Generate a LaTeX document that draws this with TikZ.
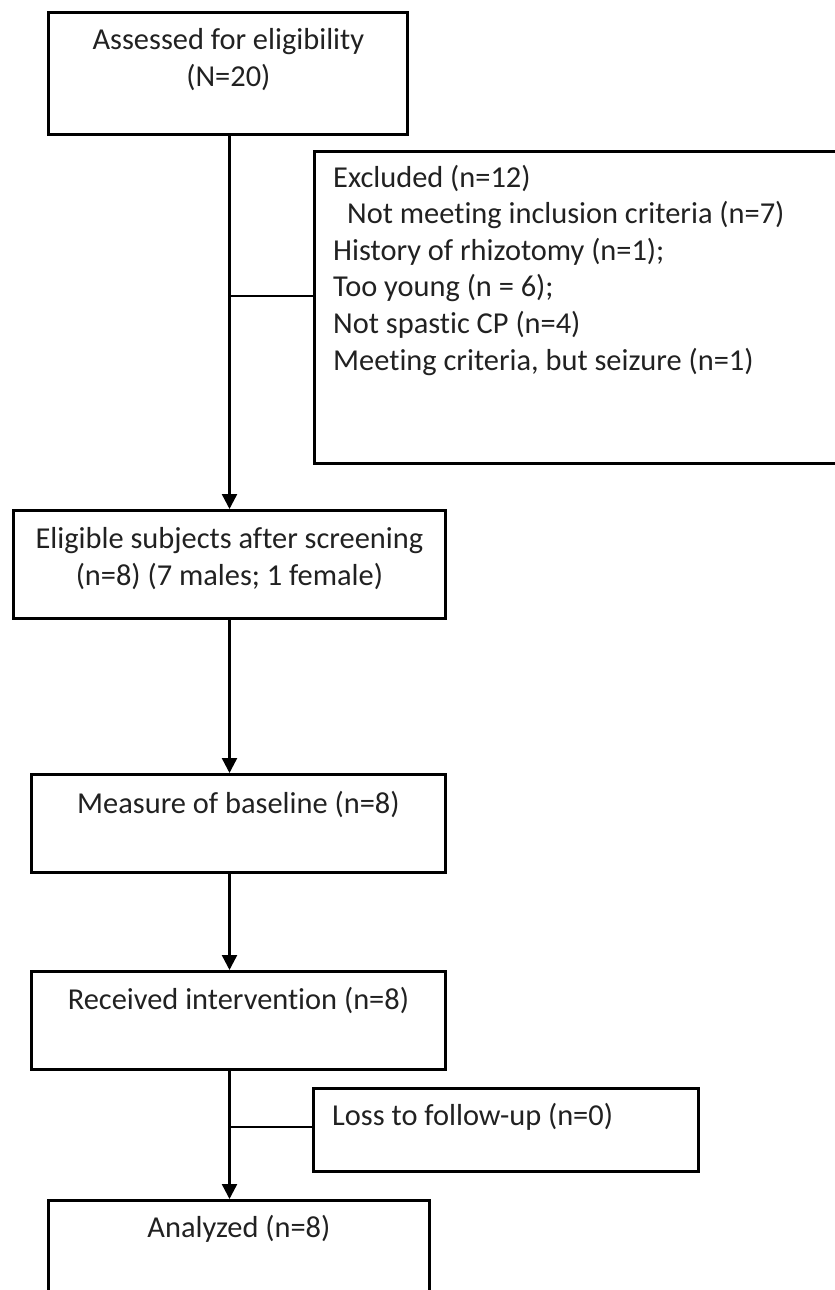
\documentclass[tikz,border=0pt]{standalone}
\usepackage{fontspec}
\setmainfont[Ligatures=NoCommon]{Carlito}
\usetikzlibrary{arrows.meta,calc}
\begin{document}
\begin{tikzpicture}[x=1pt,y=-1pt,
  box/.style={draw=black, line width=2.8pt, rectangle, inner sep=0pt, anchor=north west},
  txt/.style={inner sep=0pt, text=black!87, font=\fontsize{30.4}{36.6}\selectfont},
  link/.style={draw=black, line width=2.4pt},
  arr/.style={link, -{Triangle[width=15pt,length=15pt]}}]
\useasboundingbox (0,0) rectangle (835,1290);
\clip (0,0) rectangle (835,1290);
% boxes
\node[box, minimum width=359pt, minimum height=122pt] (A) at (47,11) {};
\node[box, minimum width=547pt, minimum height=312pt] (B) at (313,150) {};
\node[box, minimum width=432pt, minimum height=108pt] (C) at (12,509) {};
\node[box, minimum width=414pt, minimum height=98pt] (D) at (30,773) {};
\node[box, minimum width=414pt, minimum height=98pt] (E) at (30,970) {};
\node[box, minimum width=385pt, minimum height=83pt] (L) at (312,1087) {};
\node[box, minimum width=381pt, minimum height=131pt] (F) at (47,1199) {};
% texts (multi-line nodes: base = last line)
\node[txt, anchor=base, align=center] (tA) at ($(A.north)+(0.5,75)$) {Assessed for eligibility\\(N=20)};
\node[txt, anchor=base west, align=left] (tB) at ($(B.north west)+(20,220)$) {Excluded (n=12)\\\hspace*{14pt}Not meeting inclusion criteria (n=7)\\History of rhizotomy (n=1);\\Too young (n = 6);\\Not spastic CP (n=4)\\Meeting criteria, but seizure (n=1)};
\node[txt, anchor=base, align=center] (tC) at ($(C.north)+(0,76)$) {Eligible subjects after screening\\(n=8) (7 males; 1 female)};
\node[txt, anchor=base] (tD) at ($(D.north)+(0,40)$) {Measure of baseline (n=8)};
\node[txt, anchor=base] (tE) at ($(E.north)+(0,39)$) {Received intervention (n=8)};
\node[txt, anchor=base west] (tL) at ($(L.north west)+(20,38)$) {Loss to follow-up (n=0)};
\node[txt, anchor=base] (tF) at ($(F.north)+(0,38)$) {Analyzed (n=8)};
% connectors
\coordinate (spine) at (229.5,0);
\coordinate (j1) at (229.5,296);
\coordinate (j2) at (229.5,1127);
\draw[arr] (spine |- A.south) -- (spine |- C.north);
\draw[link] (j1) -- (j1 -| B.west);
\draw[arr] (spine |- C.south) -- (spine |- D.north);
\draw[arr] (spine |- D.south) -- (spine |- E.north);
\draw[arr] (spine |- E.south) -- (spine |- F.north);
\draw[link] (j2) -- (j2 -| L.west);
\end{tikzpicture}
\end{document}
